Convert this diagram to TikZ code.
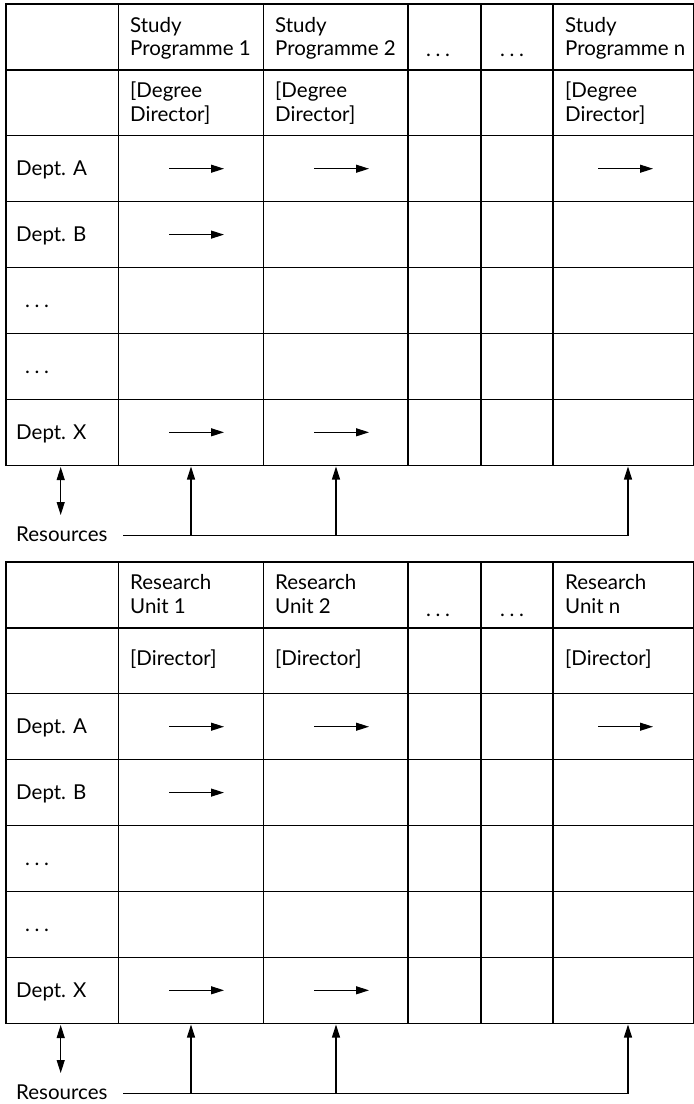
\documentclass[tikz,border=0pt]{standalone}
\usepackage{fontspec}
\setmainfont{Lato}
\usetikzlibrary{arrows.meta}
\newcommand{\mydots}{.\kern4.6pt.\kern4.6pt.}
\begin{document}
\begin{tikzpicture}[x=1pt,y=-1pt,
  grid/.style={line width=1.2pt},
  lbl/.style={font=\fontsize{20.5}{23.5}\selectfont, inner sep=0pt, anchor=base west, align=left},
  tip/.style={},
  cellarrow/.style={line width=1.1pt,-{Triangle[length=13pt,width=8pt]}},
  resline/.style={line width=1.1pt},
  resarrow/.style={line width=1.1pt,-{Triangle[length=13pt,width=8pt]}},
  resdouble/.style={line width=1.1pt,{Triangle[length=13pt,width=8pt]}-{Triangle[length=13pt,width=8pt]}}
]
\useasboundingbox (0,0) rectangle (694,1104);

% ---------------- Table 1 ----------------
\begin{scope}
\draw[grid] (6,4) rectangle (693.5,465.3);
\foreach \k in {1,...,6} \draw[grid] (6,{4+\k*65.9}) -- (693.5,{4+\k*65.9});
\foreach \x in {118.5,263.5,408,481,553} \draw[grid] (\x,4) -- (\x,465.3);

\node[lbl] (s-h1) at (130,55.5) {Study\\Programme 1};
\node[lbl] (s-h2) at (275,55.5) {Study\\Programme 2};
\node[lbl] (s-h3) at (426,56) {\mydots};
\node[lbl] (s-h4) at (500,56) {\mydots};
\node[lbl] (s-hn) at (565,55.5) {Study\\Programme n};
\node[lbl] (s-d1) at (130,121) {[Degree\\Director]};
\node[lbl] (s-d2) at (275,121) {[Degree\\Director]};
\node[lbl] (s-dn) at (565,121) {[Degree\\Director]};

\node[lbl] (s-ra) at (16,175) {Dept. A};
\node[lbl] (s-rb) at (16,241) {Dept. B};
\node[lbl] (s-rc) at (25,307) {\mydots};
\node[lbl] (s-rd) at (25,373) {\mydots};
\node[lbl] (s-rx) at (16,439) {Dept. X};

\coordinate (s-a1s) at (169,168.7); \coordinate (s-a1e) at (224,168.7);
\coordinate (s-a2s) at (314,168.7); \coordinate (s-a2e) at (369,168.7);
\coordinate (s-a3s) at (598,168.7); \coordinate (s-a3e) at (653,168.7);
\coordinate (s-b1s) at (169,234.6); \coordinate (s-b1e) at (224,234.6);
\coordinate (s-x1s) at (169,432.3); \coordinate (s-x1e) at (224,432.3);
\coordinate (s-x2s) at (314,432.3); \coordinate (s-x2e) at (369,432.3);
\foreach \a in {a1,a2,a3,b1,x1,x2} \draw[cellarrow] (s-\a s) -- (s-\a e);

\node[lbl] (s-res) at (16,541) {Resources};
\coordinate (s-ls) at (123,535.5);
\coordinate (s-j1) at (191,535.5); \coordinate (s-t1) at (191,466.5);
\coordinate (s-j2) at (336,535.5); \coordinate (s-t2) at (336,466.5);
\coordinate (s-j3) at (628,535.5); \coordinate (s-t3) at (628,466.5);
\coordinate (s-u1) at (60.7,467); \coordinate (s-u2) at (60.7,515);
\draw[resline] (s-ls) -- (s-j3);
\foreach \j in {1,2,3} \draw[resarrow] (s-j\j) -- (s-t\j);
\draw[resdouble] (s-u1) -- (s-u2);
\end{scope}

% ---------------- Table 2 ----------------
\begin{scope}[shift={(0,558)}]
\draw[grid] (6,4) rectangle (693.5,465.3);
\foreach \k in {1,...,6} \draw[grid] (6,{4+\k*65.9}) -- (693.5,{4+\k*65.9});
\foreach \x in {118.5,263.5,408,481,553} \draw[grid] (\x,4) -- (\x,465.3);

\node[lbl] (r-h1) at (130,55) {Research\\Unit 1};
\node[lbl] (r-h2) at (275,55) {Research\\Unit 2};
\node[lbl] (r-h3) at (426,58) {\mydots};
\node[lbl] (r-h4) at (500,58) {\mydots};
\node[lbl] (r-hn) at (565,55) {Research\\Unit n};
\node[lbl] (r-d1) at (130,107) {[Director]};
\node[lbl] (r-d2) at (275,107) {[Director]};
\node[lbl] (r-dn) at (565,107) {[Director]};

\node[lbl] (r-ra) at (16,175) {Dept. A};
\node[lbl] (r-rb) at (16,241) {Dept. B};
\node[lbl] (r-rc) at (25,307) {\mydots};
\node[lbl] (r-rd) at (25,373) {\mydots};
\node[lbl] (r-rx) at (16,439) {Dept. X};

\coordinate (r-a1s) at (169,168.7); \coordinate (r-a1e) at (224,168.7);
\coordinate (r-a2s) at (314,168.7); \coordinate (r-a2e) at (369,168.7);
\coordinate (r-a3s) at (598,168.7); \coordinate (r-a3e) at (653,168.7);
\coordinate (r-b1s) at (169,234.6); \coordinate (r-b1e) at (224,234.6);
\coordinate (r-x1s) at (169,432.3); \coordinate (r-x1e) at (224,432.3);
\coordinate (r-x2s) at (314,432.3); \coordinate (r-x2e) at (369,432.3);
\foreach \a in {a1,a2,a3,b1,x1,x2} \draw[cellarrow] (r-\a s) -- (r-\a e);

\node[lbl] (r-res) at (16,541) {Resources};
\coordinate (r-ls) at (123,535.5);
\coordinate (r-j1) at (191,535.5); \coordinate (r-t1) at (191,466.5);
\coordinate (r-j2) at (336,535.5); \coordinate (r-t2) at (336,466.5);
\coordinate (r-j3) at (628,535.5); \coordinate (r-t3) at (628,466.5);
\coordinate (r-u1) at (60.7,467); \coordinate (r-u2) at (60.7,515);
\draw[resline] (r-ls) -- (r-j3);
\foreach \j in {1,2,3} \draw[resarrow] (r-j\j) -- (r-t\j);
\draw[resdouble] (r-u1) -- (r-u2);
\end{scope}
\end{tikzpicture}
\end{document}
